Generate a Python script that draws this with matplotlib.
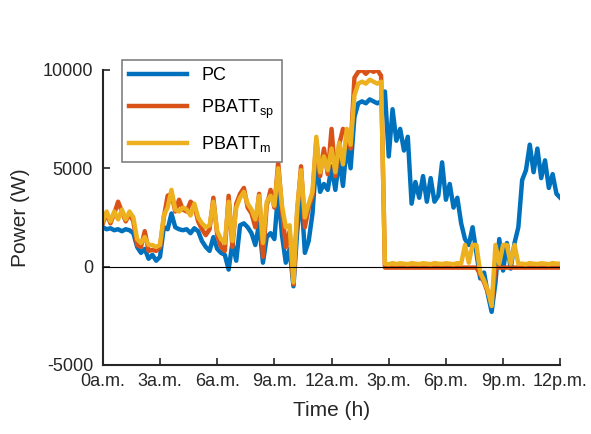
import numpy as np
import matplotlib
matplotlib.use("Agg")
import matplotlib.pyplot as plt

plt.rcParams['font.family'] = ['Liberation Sans', 'DejaVu Sans']
plt.rcParams['mathtext.fontset'] = 'custom'
plt.rcParams['mathtext.rm'] = 'Liberation Sans'
plt.rcParams['axes.unicode_minus'] = False

# time axis (hours), one sample every 0.2 h
hours = np.round(np.arange(0, 24.01, 0.2), 1)

pc = [2000, 1900, 1950, 1850, 1900, 1800, 1900, 1850, 1700, 1000,
      700, 900, 400, 600, 300, 500, 2000, 1900, 2700, 2000,
      1900, 1850, 1900, 1700, 1950, 1800, 1300, 1000, 800, 1500,
      900, 700, 600, -150, 1200, 300, 2100, 2200, 2000, 1700,
      1100, 2200, 200, 1500, 1700, 1400, 3800, 1600, 200, 900,
      -1000, 1800, 3800, 700, 1300, 2700, 5400, 3800, 4200, 3900,
      5100, 3900, 5500, 4100, 6200, 5000, 7600, 8300, 8400, 8300,
      8500, 8400, 8300, 8400, 8900, 5600, 8000, 6400, 7000, 5900,
      6600, 3200, 4300, 3500, 4600, 3300, 4500, 3300, 3600, 5300,
      3400, 4200, 3000, 3500, 2200, 1400, 1100, 2000, 700, -600,
      -300, -1400, -2300, -800, 1400, -200, 1200, -100, 1200, 2000,
      4400, 4900, 6200, 4800, 6000, 4500, 5400, 4000, 4700, 3700,
      3500]

pbatt_sp = [2200, 2700, 2200, 2700, 3300, 2800, 2300, 2700, 2300, 1100,
            1000, 1800, 800, 850, 800, 1000, 2500, 3600, 3700, 2800,
            3400, 2900, 2800, 3300, 3100, 2300, 1900, 1600, 1900, 3500,
            1600, 1000, 800, 3600, 1000, 3200, 3700, 4000, 3000, 2700,
            2000, 3700, 500, 3100, 3900, 3000, 5300, 2900, 1000, 1800,
            -900, 2800, 5100, 2000, 3000, 3600, 6400, 4600, 6000, 4700,
            7000, 4600, 6200, 7000, 6800, 6000, 9600, 9900, 10000, 9800,
            10000, 9900, 10000, 9700, -50, -50, -50, -50, -50, -50,
            -50, -50, -50, -50, -50, -50, -50, -50, -50, -50,
            -50, -50, -50, -50, -50, -50, -50, -50, -50, -400,
            -800, -1300, -1800, -50, -50, -50, -50, -50, -50, -50,
            -50, -50, -50, -50, -50, -50, -50, -50, -50, -50,
            -50]

pbatt_m = [2300, 2800, 2300, 2800, 2400, 2900, 2400, 2800, 2500, 1400,
           1200, 1500, 1100, 1100, 1000, 1100, 2600, 3000, 3900, 2900,
           2800, 3000, 2900, 2600, 3200, 2500, 2200, 2000, 2100, 3300,
           1800, 1400, 1200, 3300, 1300, 3000, 3500, 3800, 3200, 2900,
           2400, 3600, 1200, 3300, 3600, 3100, 5000, 3100, 2000, 2100,
           -800, 3000, 4900, 2500, 3200, 3800, 6600, 4800, 5600, 4900,
           6000, 4800, 6300, 5200, 7000, 6200, 8700, 9300, 9400, 9300,
           9500, 9400, 9300, 9400, 150, 120, 180, 130, 170, 150,
           120, 180, 150, 130, 170, 150, 120, 180, 150, 130,
           170, 150, 120, 180, 150, 1100, 200, 1100, 1100, -300,
           -700, -1200, -2000, 1100, 150, 1100, 1100, 150, 1100, 150,
           150, 120, 180, 150, 130, 170, 150, 120, 180, 150,
           150]

tick_hours = [0, 3, 6, 9, 12, 15, 18, 21, 24]
tick_labels = ['0a.m.', '3a.m.', '6a.m.', '9a.m.', '12a.m.', '3p.m.', '6p.m.', '9p.m.', '12p.m.']

fig = plt.figure(figsize=(5.91, 4.34), dpi=100)
ax = fig.add_axes([0.174, 0.159, 0.774, 0.68])

ax.plot(hours, pc, color='#0072BD', lw=3.2, label='PC')
ax.plot(hours, pbatt_sp, color='#D95319', lw=3.2, label=r'PBATT$_{\mathrm{sp}}$')
ax.plot(hours, pbatt_m, color='#EDB120', lw=3.2, label=r'PBATT$_{\mathrm{m}}$')
ax.axhline(0, color='black', lw=0.8, zorder=5)

ax.set_xlim(0, 24)
ax.set_ylim(-5000, 10000)
ax.set_xticks(tick_hours)
ax.set_xticklabels(tick_labels)
ax.set_yticks([-5000, 0, 5000, 10000])
ax.set_xlabel('Time (h)', fontsize=15, color='#262626', labelpad=8)
ax.set_ylabel('Power (W)', fontsize=15, color='#262626', labelpad=9)
ax.tick_params(direction='in', length=5, width=1.2, labelsize=13, colors='#262626')
ax.tick_params(axis='y', pad=7)
ax.tick_params(axis='x', pad=6)
for side in ['top', 'right']:
    ax.spines[side].set_visible(False)
for side in ['left', 'bottom']:
    ax.spines[side].set_linewidth(1.5)
    ax.spines[side].set_color('#262626')

leg = ax.legend(loc='upper left', bbox_to_anchor=(0.042, 1.034), fontsize=13,
                handlelength=3.2, labelspacing=0.75, fancybox=False,
                framealpha=1, borderaxespad=0)
leg.get_frame().set_edgecolor('#808080')
leg.get_frame().set_linewidth(1.2)

plt.savefig('out.png', dpi=100)
